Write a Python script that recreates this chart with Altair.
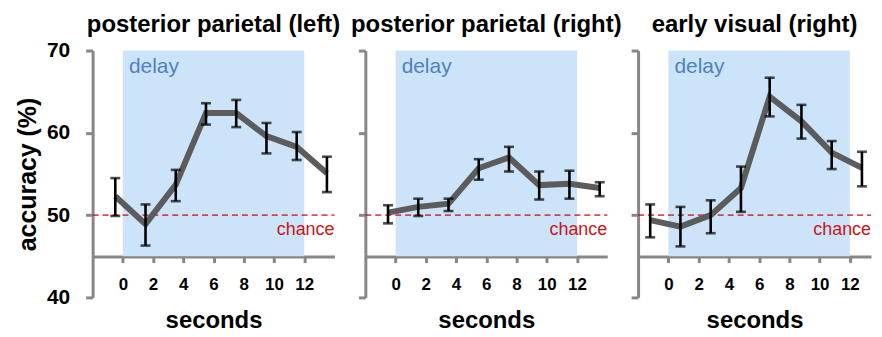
import altair as alt
import pandas as pd

titles = ["posterior parietal (left)", "posterior parietal (right)", "early visual (right)"]

t1 = [-0.5, 1.5, 3.5, 5.5, 7.5, 9.5, 11.5, 13.5]
acc1 = [52.3, 48.9, 53.7, 62.4, 62.4, 59.6, 58.3, 55.1]
hi1 = [54.5, 51.3, 55.5, 63.6, 64.0, 61.2, 60.1, 57.1]
lo1 = [49.9, 46.3, 51.7, 61.0, 60.7, 57.5, 56.7, 52.8]

t2 = [-0.5, 1.5, 3.5, 5.5, 7.5, 9.5, 11.5, 13.5]
acc2 = [50.3, 51.0, 51.4, 55.7, 57.0, 53.65, 53.8, 53.3]
hi2 = [51.2, 52.0, 52.0, 56.8, 58.3, 55.3, 55.4, 54.0]
lo2 = [49.0, 49.9, 50.5, 54.3, 55.3, 51.9, 52.0, 52.3]

t3 = [-1.2, 0.8, 2.8, 4.8, 6.7, 8.8, 10.8, 12.8]
acc3 = [49.4, 48.6, 50.0, 53.3, 64.4, 61.4, 57.6, 55.75]
hi3 = [51.3, 51.0, 51.8, 55.9, 66.7, 63.4, 59.0, 57.7]
lo3 = [47.3, 46.2, 47.8, 50.4, 62.0, 59.3, 55.6, 53.5]

delay_start, delay_end = 0, 12
chance_level = 50
x_ticks = [0, 2, 4, 6, 8, 10, 12]
y_ticks = [40, 50, 60, 70]
x_domains = [[-2, 14], [-2, 14], [-2, 13.4]]   # third panel is cropped at the right edge
y_domain = [40, 70]

FONT = "Liberation Sans"
NARROW = "Liberation Sans Narrow, Liberation Sans"
GRAY = "#878787"
PX_PER_SEC = 243 / 16


def panel(title, t, acc, hi, lo, first, x_domain):
    df = pd.DataFrame({"t": t, "acc": acc, "hi": hi, "lo": lo})
    xs = alt.Scale(domain=x_domain, nice=False, zero=False)
    ys = alt.Scale(domain=y_domain, nice=False, zero=False)
    xaxis = alt.Axis(values=x_ticks, tickCount=20, offset=-41, title="seconds", grid=False,
                     domainColor=GRAY, domainWidth=3, tickColor=GRAY, tickWidth=3,
                     tickSize=6, labelFont=NARROW, labelFontSize=17, labelFontWeight="bold",
                     labelColor="black", labelPadding=14, labelOverlap=False,
                     titleFont=FONT, titleFontSize=24,
                     titleFontWeight="bold", titleColor="black", titlePadding=16,
                     labelFlush=False)
    if first:
        yaxis = alt.Axis(values=y_ticks, tickCount=10, grid=False, domainColor=GRAY, domainWidth=3,
                         tickColor=GRAY, tickWidth=3, tickSize=7,
                         labelFont=FONT, labelFontSize=21, labelFontWeight="bold",
                         labelColor="black", labelPadding=16, labelOverlap=False,
                         title="accuracy (%)",
                         titleFont=FONT, titleFontSize=25, titleFontWeight="bold",
                         titleColor="black", titlePadding=6)
    else:
        yaxis = alt.Axis(values=y_ticks, tickCount=10, grid=False, domainColor=GRAY, domainWidth=3,
                         tickColor=GRAY, tickWidth=3, tickSize=7, labels=False, title=None)

    base = alt.Chart(df)
    rect = alt.Chart(pd.DataFrame({"x": [delay_start], "x2": [delay_end], "y": [45], "y2": [70]})).mark_rect(
        color="#cce4fa").encode(
        x=alt.X("x:Q", scale=xs, axis=xaxis), x2="x2", y=alt.Y("y:Q", scale=ys, axis=yaxis), y2="y2")
    chance = alt.Chart(pd.DataFrame({"x": [x_domain[0]], "x2": [x_domain[1]], "y": [chance_level]})).mark_rule(
        color="#d40000", opacity=0.7, strokeWidth=1.6, strokeDash=[6, 4]).encode(
        x=alt.X("x:Q", scale=xs), x2="x2", y=alt.Y("y:Q", scale=ys))
    delay_txt = alt.Chart(pd.DataFrame({"x": [0.4], "y": [68], "s": ["delay"]})).mark_text(
        align="left", baseline="middle", font=FONT, fontSize=21, color="#4f80c2").encode(
        x=alt.X("x:Q", scale=xs), y=alt.Y("y:Q", scale=ys), text="s")
    chance_txt = alt.Chart(pd.DataFrame({"x": [min(14.0, x_domain[1])], "y": [48.2], "s": ["chance"]})).mark_text(
        align="right", baseline="middle", font=FONT, fontSize=18, color="#cc1414").encode(
        x=alt.X("x:Q", scale=xs), y=alt.Y("y:Q", scale=ys), text="s")
    line = base.mark_line(color="#5c5c5c", strokeWidth=6).encode(
        x=alt.X("t:Q", scale=xs), y=alt.Y("acc:Q", scale=ys))
    bars = base.mark_rule(color="black", strokeWidth=2.6).encode(
        x=alt.X("t:Q", scale=xs), y=alt.Y("lo:Q", scale=ys), y2="hi")
    cap_hi = base.mark_tick(color="black", thickness=2.6, size=10, orient="horizontal").encode(
        x=alt.X("t:Q", scale=xs), y=alt.Y("hi:Q", scale=ys))
    cap_lo = base.mark_tick(color="black", thickness=2.6, size=10, orient="horizontal").encode(
        x=alt.X("t:Q", scale=xs), y=alt.Y("lo:Q", scale=ys))
    w = round((x_domain[1] - x_domain[0]) * PX_PER_SEC)
    return alt.layer(rect, chance, delay_txt, chance_txt, line, bars, cap_hi, cap_lo).properties(
        width=w, height=248,
        title=alt.TitleParams(title, font=FONT, fontSize=24, fontWeight="bold", color="black",
                              anchor="middle", frame="group", offset=3 if first else 12))


chart = alt.hconcat(
    panel(titles[0], t1, acc1, hi1, lo1, True, x_domains[0]),
    panel(titles[1], t2, acc2, hi2, lo2, False, x_domains[1]),
    panel(titles[2], t3, acc3, hi3, lo3, False, x_domains[2]),
    spacing=31, bounds="flush",
).configure_view(stroke=None).properties(padding={"left": 7, "top": 4, "right": 0, "bottom": 0})

chart.save("out.html", embed_options={"renderer": "svg", "actions": False})
